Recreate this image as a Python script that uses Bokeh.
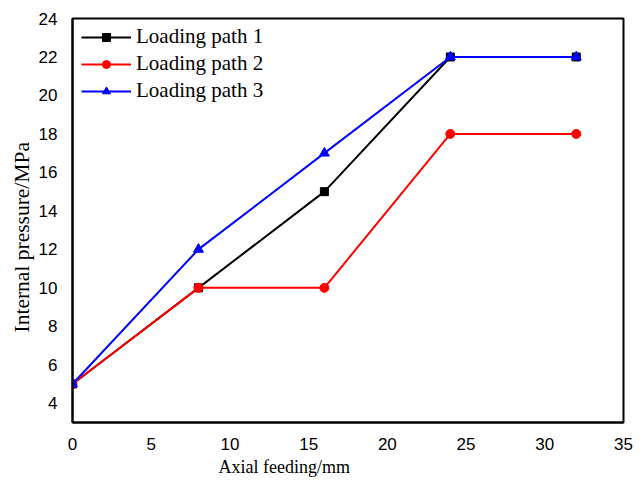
from bokeh.plotting import figure
from bokeh.models import Range1d, FixedTicker, Legend, LegendItem, Title
from bokeh.embed import file_html
from bokeh.resources import INLINE

x_feed = [0, 8, 16, 24, 32]
path1 = [5, 10, 15, 22, 22]
path2 = [5, 10, 10, 18, 18]
path3 = [5, 12, 17, 22, 22]
labels = ["Loading path 1", "Loading path 2", "Loading path 3"]
x_ticks = [0, 5, 10, 15, 20, 25, 30, 35]
y_ticks = [4, 6, 8, 10, 12, 14, 16, 18, 20, 22, 24]
x_title = "Axial feeding/mm"
y_title = "Internal pressure/MPa"

p = figure(width=644, height=482, output_backend="svg", toolbar_location=None,
           x_range=Range1d(0, 35), y_range=Range1d(3, 24),
           min_border_left=72, min_border_right=21, min_border_top=18, min_border_bottom=60)
p.grid.visible = False
p.outline_line_color = "black"
p.outline_line_width = 2

for ax in (p.xaxis, p.yaxis):
    ax.major_tick_line_color = None
    ax.minor_tick_line_color = None
    ax.axis_line_color = "black"
    ax.axis_line_width = 2
    ax.major_label_text_font = "Liberation Sans"
    ax.major_label_text_font_size = "17px"
    ax.major_label_text_color = "black"

p.xaxis.ticker = FixedTicker(ticks=x_ticks)
p.yaxis.ticker = FixedTicker(ticks=y_ticks)
p.xaxis.major_label_standoff = 9
p.yaxis.major_label_standoff = 9

# axis titles as side titles (off-centre as in the reference)
xt = Title(text=x_title, align="left", offset=146, text_font="Liberation Serif",
           text_font_size="18px", text_font_style="normal", text_color="black", standoff=5)
yt = Title(text=y_title, align="left", offset=90, text_font="Liberation Serif",
           text_font_size="21.5px", text_font_style="normal", text_color="black", standoff=4)
p.add_layout(xt, "below")
p.add_layout(yt, "left")

l1 = p.line(x_feed, path1, line_color="black", line_width=2)
m1 = p.scatter(x_feed, path1, marker="square", size=8, color="black")
l2 = p.line(x_feed, path2, line_color="red", line_width=2)
m2 = p.scatter(x_feed, path2, marker="circle", size=9, color="red")
l3 = p.line(x_feed, path3, line_color="blue", line_width=2)
m3 = p.scatter(x_feed, path3, marker="triangle", size=10, color="blue")

legend = Legend(items=[LegendItem(label=labels[0], renderers=[l1, m1]),
                       LegendItem(label=labels[1], renderers=[l2, m2]),
                       LegendItem(label=labels[2], renderers=[l3, m3])],
                location=(9, 319))
legend.border_line_color = None
legend.background_fill_alpha = 0
legend.label_text_font = "Liberation Serif"
legend.label_text_font_size = "21px"
legend.label_text_color = "black"
legend.glyph_width = 50
legend.glyph_height = 20
legend.spacing = 2
legend.padding = 2
legend.margin = 0
legend.label_standoff = 5
p.add_layout(legend)

open("out.html", "w").write(file_html(p, INLINE))
